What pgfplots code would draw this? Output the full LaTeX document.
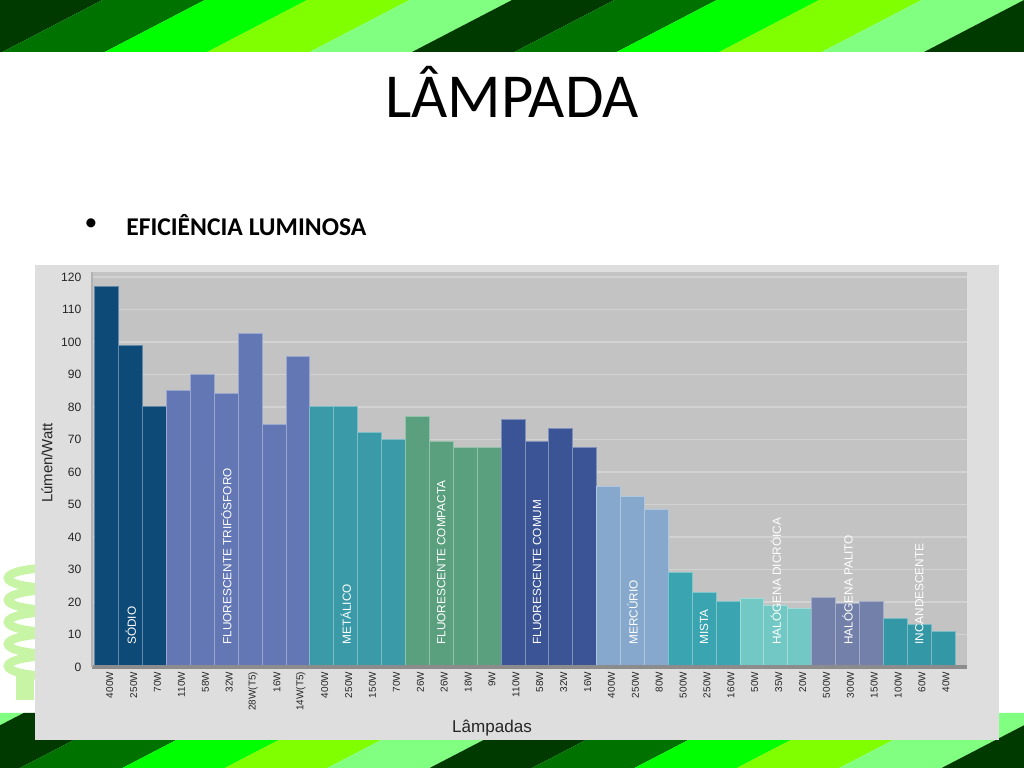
\documentclass[border=0pt]{standalone}
\usepackage{pgfplots}
\pgfplotsset{compat=1.18}
\usepackage{fontspec}
\setmainfont{Carlito}
\newfontfamily\chartfont{Liberation Sans}
\definecolor{sA}{HTML}{003A00}
\definecolor{sB}{HTML}{007200}
\definecolor{sC}{HTML}{00FF00}
\definecolor{sD}{HTML}{80FF00}
\definecolor{sE}{HTML}{80FF80}
\definecolor{frame}{HTML}{DEDEDE}
\definecolor{plotgrey}{HTML}{C3C3C3}
\definecolor{gridgrey}{HTML}{D2D2D2}
\definecolor{cSodio}{HTML}{0D4A78}
\definecolor{cTri}{HTML}{6477B5}
\definecolor{cMet}{HTML}{3A9AA8}
\definecolor{cComp}{HTML}{5AA07E}
\definecolor{cCom}{HTML}{3B5495}
\definecolor{cMerc}{HTML}{85A8CC}
\definecolor{cMista}{HTML}{3AA5B0}
\definecolor{cDic}{HTML}{72C8C4}
\definecolor{cPal}{HTML}{7381AA}
\definecolor{cInc}{HTML}{3497A6}
\definecolor{lampgreen}{HTML}{C8F5A5}
\begin{document}
\begin{tikzpicture}[x=0.703125pt,y=0.703125pt]
% page
\fill[white] (0,0) rectangle (1024,768);
% top stripes
\begin{scope}
\clip (0,716) rectangle (1024,768);
\foreach \k/\c in {-1/sE,0/sA,1/sB,2/sC,3/sD,4/sE,5/sA,6/sB,7/sC,8/sD,9/sE,10/sA,11/sB}{
  \fill[\c] ({102.4*\k},768) -- ({102.4*(\k+1)},768) -- ({102.4*(\k+1)-100},716) -- ({102.4*\k-100},716) -- cycle;
}
\end{scope}
% bottom stripes
\begin{scope}
\clip (0,0) rectangle (1024,55);
\foreach \j/\c in {-1/sE,0/sA,1/sB,2/sC,3/sD,4/sE,5/sA,6/sB,7/sC,8/sD,9/sE,10/sA,11/sB}{
  \fill[\c] ({20+102.4*(\j-1)},0) -- ({20+102.4*\j},0) -- ({126+102.4*\j},55) -- ({126+102.4*(\j-1)},55) -- cycle;
}
\end{scope}
% left lamp decoration
\begin{scope}
\clip (0,60) rectangle (40,210);
\foreach \yy in {190,168,146,124,102}{
  \draw[lampgreen, line width=6] (52,\yy) ellipse (44 and 10);
}
\fill[lampgreen] (16,68) rectangle (34,96);
\end{scope}
% title and bullet
\node[font=\fontsize{44}{50}\selectfont] at (512,676) {LÂMPADA};
\node[font=\fontsize{18}{22}\selectfont] at (91,543) {•};
\node[anchor=west, inner sep=0, font=\bfseries\fontsize{18}{22}\selectfont] at (126,543) {EFICIÊNCIA LUMINOSA};
% chart frame
\fill[frame] (35,28) rectangle (999,503);
\begin{axis}[
  at={(64.6875pt,71.0156pt)}, anchor=south west,
  scale only axis, width=615.2pt, height=277.7pt,
  xmin=-0.625, xmax=36, ymin=0, ymax=121.5,
  axis background/.style={fill=plotgrey},
  axis line style={draw=none},
  ytick={0,10,...,120},
  ymajorgrids, grid style={draw=gridgrey, line width=1.1pt},
  major tick length=0pt,
  xtick={0,...,35},
  xticklabels={400W,250W,70W,110W,58W,32W,28W(T5),16W,14W(T5),400W,250W,150W,70W,26W,26W,18W,9W,110W,58W,32W,16W,400W,250W,80W,500W,250W,160W,50W,35W,20W,500W,300W,150W,100W,60W,40W},
  x tick label style={rotate=90, anchor=east, font=\chartfont\fontsize{7}{7}\selectfont, text=black!85, yshift=-2pt},
  y tick label style={font=\chartfont\fontsize{8.5}{9}\selectfont, text=black!85, xshift=-4pt},
  /pgf/number format/assume math mode=true,
  mybar/.style={ybar, bar width=1, bar shift=0pt, line width=0.7pt, fill=#1, draw=#1!65!white},
  clip=false,
]
\addplot[mybar=cSodio] coordinates {(0,117) (1,99) (2,80)};
\addplot[mybar=cTri] coordinates {(3,85) (4,90) (5,84) (6,102.5) (7,74.5) (8,95.5)};
\addplot[mybar=cMet] coordinates {(9,80) (10,80) (11,72) (12,70)};
\addplot[mybar=cComp] coordinates {(13,77) (14,69.5) (15,67.5) (16,67.5)};
\addplot[mybar=cCom] coordinates {(17,76) (18,69.5) (19,73.5) (20,67.5)};
\addplot[mybar=cMerc] coordinates {(21,55.5) (22,52.5) (23,48.5)};
\addplot[mybar=cMista] coordinates {(24,29) (25,23) (26,20)};
\addplot[mybar=cDic] coordinates {(27,21) (28,19) (29,18)};
\addplot[mybar=cPal] coordinates {(30,21.5) (31,19.5) (32,20)};
\addplot[mybar=cInc] coordinates {(33,15) (34,13) (35,11)};
\draw[black!45, line width=2.2pt] (axis cs:-0.625,0) -- (axis cs:36,0);
\draw[black!30, line width=2pt] (axis cs:-0.625,0) -- (axis cs:-0.625,121.5);
\begin{scope}[every node/.style={rotate=90, anchor=west, text=white, inner sep=0pt, font=\chartfont\fontsize{8.3}{9}\selectfont}]
\node at (axis cs:1,6.8) {SÓDIO};
\node at (axis cs:5,6.8) {FLUORESCENTE TRIFÓSFORO};
\node at (axis cs:10,6.8) {METÁLICO};
\node at (axis cs:14,6.8) {FLUORESCENTE COMPACTA};
\node at (axis cs:18,6.8) {FLUORESCENTE COMUM};
\node at (axis cs:22,6.8) {MERCÚRIO};
\node at (axis cs:25,6.8) {MISTA};
\node at (axis cs:28,6.8) {HALÓGENA DICRÓICA};
\node at (axis cs:31,6.8) {HALÓGENA PALITO};
\node at (axis cs:34,6.8) {INCANDESCENTE};
\end{scope}
\end{axis}
\node[rotate=90, font=\chartfont\fontsize{10.5}{11}\selectfont, text=black!85] at (47,305) {Lúmen/Watt};
\node[font=\chartfont\fontsize{12}{13}\selectfont, text=black!85] at (492,40) {Lâmpadas};
\end{tikzpicture}
\end{document}
